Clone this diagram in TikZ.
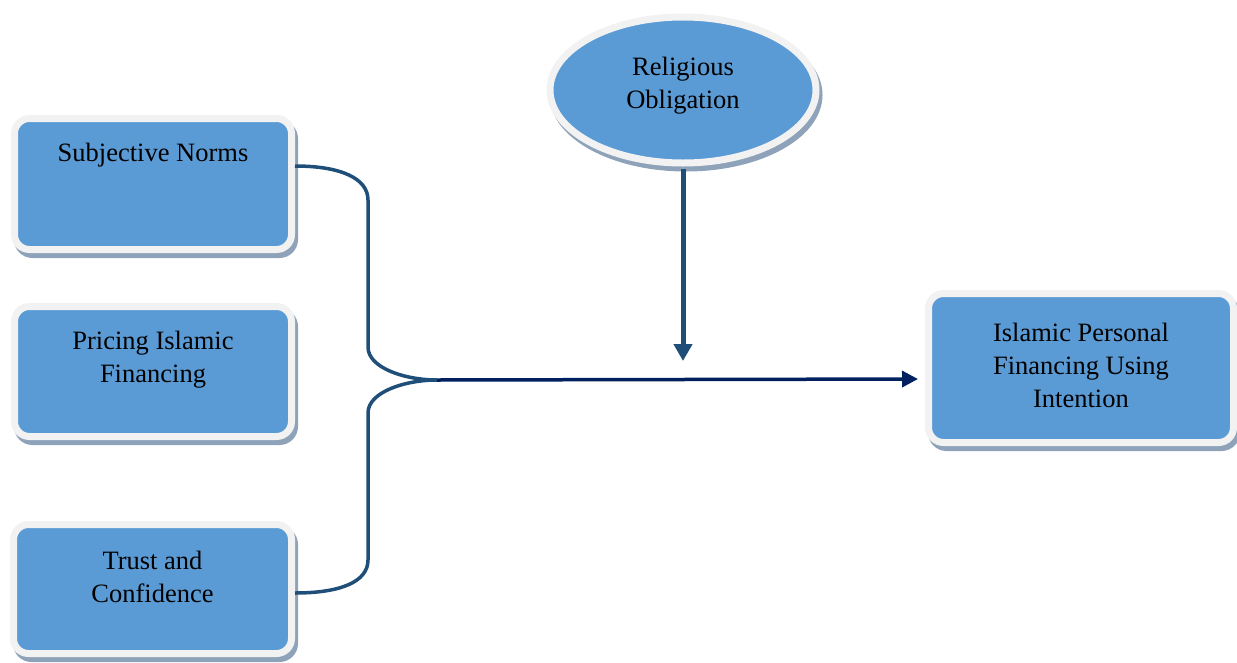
\documentclass[tikz,border=0pt]{standalone}
\usepackage{fontspec}
\setmainfont{Liberation Serif}
\usetikzlibrary{arrows.meta,shapes.geometric}
\definecolor{boxblue}{HTML}{5B9BD5}
\definecolor{rim}{HTML}{F2F2F2}
\definecolor{shade}{HTML}{8EA3BA}
\definecolor{brace}{HTML}{1F4E79}
\definecolor{navy}{HTML}{002060}
\tikzset{
  shadowed/.style={preaction={draw=shade, fill=shade, line width=7pt, transform canvas={shift={(3pt,-5pt)}}}},
  bluebox/.style={shadowed, rectangle, rounded corners=15pt, fill=boxblue, draw=rim, line width=7pt, inner sep=0pt},
  blueoval/.style={shadowed, ellipse, fill=boxblue, draw=rim, line width=7pt, inner sep=0pt},
  txt/.style={font=\fontsize{26.5}{33}\selectfont, align=center, text=black},
  bracel/.style={draw=brace, line width=3.5pt},
  mainarrow/.style={draw=navy, line width=3.5pt, -{Triangle[length=16pt,width=16pt]}},
  modarrow/.style={draw=brace, line width=5pt, -{Triangle[length=17pt,width=18pt]}}
}
\begin{document}
\begin{tikzpicture}[x=1pt,y=-1pt]
\useasboundingbox (0,0) rectangle (1237,662);
\node[bluebox, minimum width=277pt, minimum height=131pt,
  label={[txt,yshift=29pt]center:Subjective Norms}] (SN) at (153,184) {};
\node[bluebox, minimum width=277pt, minimum height=130pt,
  label={[txt,yshift=11.5pt]center:Pricing Islamic\\Financing}] (PIF) at (153,371.5) {};
\node[bluebox, minimum width=278pt, minimum height=129pt,
  label={[txt,yshift=12pt]center:Trust and\\Confidence}] (TC) at (152.5,589) {};
\node[bluebox, minimum width=305pt, minimum height=149pt,
  label={[txt,yshift=3pt]center:Islamic Personal\\Financing Using\\Intention}] (IPF) at (1081,368) {};
\node[blueoval, minimum width=266pt, minimum height=146pt,
  label={[txt,yshift=4.5pt]center:Religious\\Obligation}] (RO) at (683,90) {};
\coordinate (j) at (437,380);
\coordinate (va) at (683,361);
\draw[bracel] ([yshift=18pt]SN.east) .. controls (340,166) and (368,178) .. (368,200)
  -- (368,347) .. controls (368,368) and (405,380) .. (j);
\draw[bracel] (j) .. controls (405,380) and (368,392) .. (368,413)
  -- (368,560) .. controls (368,582) and (340,593) .. ([yshift=-4pt]TC.east);
\draw[mainarrow, shorten >=7pt] (j) -- ([yshift=-11pt]IPF.west);
\draw[modarrow] ([yshift=-2pt]RO.south) -- (va);
\end{tikzpicture}
\end{document}
